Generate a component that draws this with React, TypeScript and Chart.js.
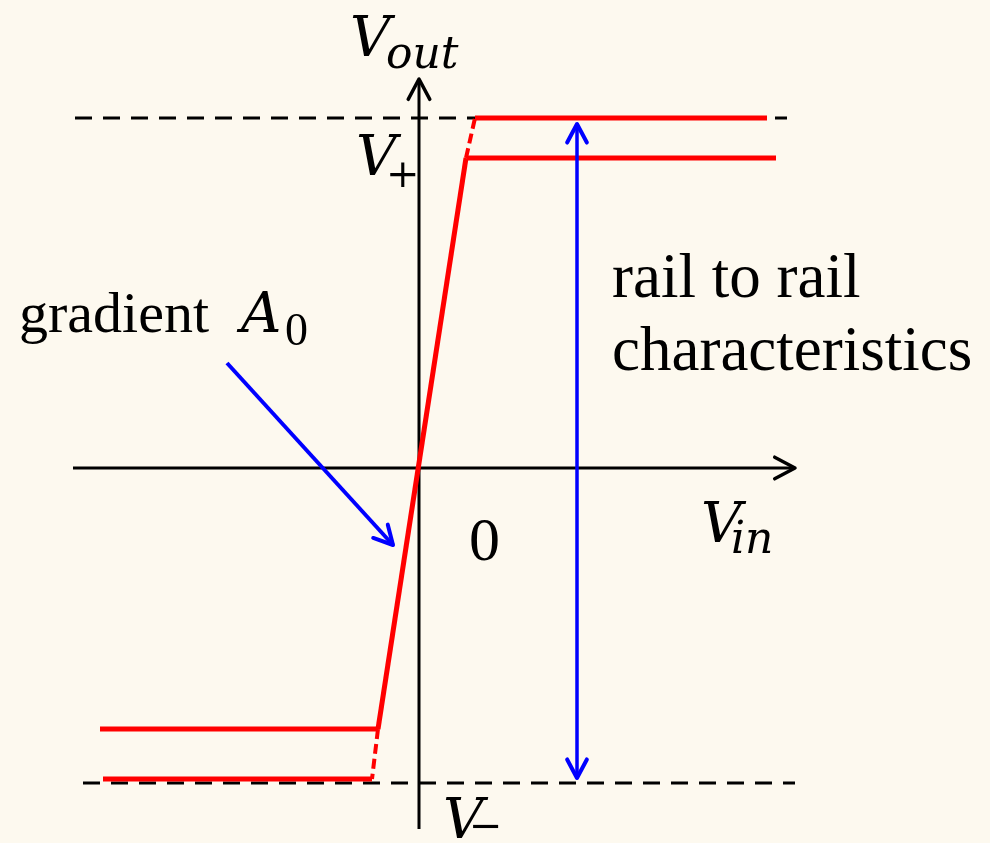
import React, { useEffect, useRef } from "react";
import { Chart, registerables } from "chart.js";

Chart.register(...registerables);

// Coordinates: Vin horizontal, Vout vertical (arbitrary diagram units, origin at axes crossing)
const xRange = [-419, 571];
const yRange = [-375, 468];

const railHigh = 350; // supply rail +
const railLow = -315; // supply rail -
const satHigh = 310; // real saturation V+
const satLow = -261; // real saturation V-

const railDashedX = [-344, 368];
const railLowDashedX = [-336, 376];

const idealTopX = [56, 348];
const realTopX = [48, 357];
const realLowX = [-319, -41];
const idealLowY = -311;
const idealLowX = [-316, -47];

const slopeX = [-41, 47];
const slopeY = [satLow, satHigh];

const xAxisX = [-346, 376];
const yAxisY = [-361, 389];

const railArrowX = 158;
const railArrowY = [344, -310];
const gradArrowX = [-192, -26];
const gradArrowY = [105, -77];

type Pt = { x: number; y: number };
const seg = (x0: number, y0: number, x1: number, y1: number): Pt[] => [
  { x: x0, y: y0 },
  { x: x1, y: y1 },
];

const RED = "#ff0000";
const BLUE = "#0000ff";
const BLACK = "#000000";

const MATH = "italic 56px 'DejaVu Serif'";
const MATHSUB = "italic 44px 'DejaVu Serif'";
const OP = "40px 'DejaVu Serif'";
const TEXT = "58px 'Liberation Serif'";
const TEXT2 = "63px 'Liberation Serif'";

// [text, font, x(data), y(data baseline)]
const labels: [string, string, number, number][] = [
  ["V", MATH, -69, 412],
  ["out", MATHSUB, -33, 400],
  ["V", MATH, -63, 293],
  ["+", OP, -33, 281],
  ["gradient", TEXT, -400, 136],
  ["A", MATH, -178, 136],
  ["0", "46px 'Liberation Serif'", -134, 123],
  ["rail to rail", TEXT2, 193, 171],
  ["characteristics", TEXT2, 193, 98],
  ["0", "62px 'Liberation Serif'", 50, -92],
  ["V", MATH, 282, -74],
  ["in", MATHSUB, 312, -85],
  ["V", MATH, 24, -370],
  ["\u2212", OP, 50, -371],
];

const arrowPlugin = {
  id: "arrowsAndText",
  afterDatasetsDraw(chart: any) {
    const ctx = chart.ctx as CanvasRenderingContext2D;
    const xs = chart.scales.x;
    const ys = chart.scales.y;
    chart.data.datasets.forEach((ds: any) => {
      if (!ds.arrow) return;
      const pts = ds.data.map((p: Pt) => ({
        x: xs.getPixelForValue(p.x),
        y: ys.getPixelForValue(p.y),
      }));
      const head = (tip: any, from: any) => {
        const ang = Math.atan2(tip.y - from.y, tip.x - from.x);
        const L = ds.headLen || 22;
        const a = (28 * Math.PI) / 180;
        ctx.save();
        ctx.strokeStyle = ds.borderColor;
        ctx.lineWidth = ds.headWidth || ds.borderWidth;
        ctx.lineCap = "round";
        ctx.lineJoin = "round";
        ctx.beginPath();
        ctx.moveTo(tip.x - L * Math.cos(ang - a), tip.y - L * Math.sin(ang - a));
        ctx.lineTo(tip.x, tip.y);
        ctx.lineTo(tip.x - L * Math.cos(ang + a), tip.y - L * Math.sin(ang + a));
        ctx.stroke();
        ctx.restore();
      };
      const n = pts.length;
      head(pts[n - 1], pts[n - 2]);
      if (ds.arrow === "both") head(pts[0], pts[1]);
    });
  },
  afterDraw(chart: any) {
    const ctx = chart.ctx as CanvasRenderingContext2D;
    const xs = chart.scales.x;
    const ys = chart.scales.y;
    ctx.save();
    ctx.fillStyle = "#000";
    ctx.textBaseline = "alphabetic";
    ctx.textAlign = "left";
    labels.forEach(([t, f, x, y]) => {
      ctx.font = f;
      ctx.fillText(t, xs.getPixelForValue(x), ys.getPixelForValue(y));
    });
    ctx.restore();
  },
};

export default function App() {
  const ref = useRef<HTMLCanvasElement>(null);
  useEffect(() => {
    if (!ref.current) return;
    const line = (data: Pt[], color: string, width: number, extra: any = {}) => ({
      data,
      borderColor: color,
      backgroundColor: color,
      borderWidth: width,
      showLine: true,
      pointRadius: 0,
      fill: false,
      tension: 0,
      ...extra,
    });
    const chart = new Chart(ref.current, {
      type: "scatter",
      data: {
        datasets: [
          line(seg(gradArrowX[0], gradArrowY[0], gradArrowX[1], gradArrowY[1]), BLUE, 4, { arrow: "end", headLen: 21 }),
          line(seg(railArrowX, railArrowY[0], railArrowX, railArrowY[1]), BLUE, 3.5, { arrow: "both", headLen: 21, headWidth: 4 }),
          line(seg(slopeX[0], slopeY[0], slopeX[1], slopeY[1]), RED, 5),
          line(seg(slopeX[1], satHigh, idealTopX[0], railHigh), RED, 4, { borderDash: [10, 5] }),
          line(seg(slopeX[0], satLow, idealLowX[1], idealLowY), RED, 4, { borderDash: [10, 5] }),
          line(seg(idealTopX[0], railHigh, idealTopX[1], railHigh), RED, 5),
          line(seg(realTopX[0], satHigh, realTopX[1], satHigh), RED, 5),
          line(seg(realLowX[0], satLow, realLowX[1], satLow), RED, 5),
          line(seg(idealLowX[0], idealLowY, idealLowX[1], idealLowY), RED, 5),
          line(seg(xAxisX[0], 0, xAxisX[1], 0), BLACK, 3, { arrow: "end", headLen: 23, headWidth: 3.5 }),
          line(seg(0, yAxisY[0], 0, yAxisY[1]), BLACK, 3, { arrow: "end", headLen: 23, headWidth: 3.5 }),
          line(seg(railDashedX[0], railHigh, railDashedX[1], railHigh), BLACK, 3, { borderDash: [17, 11] }),
          line(seg(railLowDashedX[0], railLow, railLowDashedX[1], railLow), BLACK, 3, { borderDash: [17, 11] }),
        ] as any,
      },
      options: {
        animation: false,
        responsive: false,
        events: [],
        layout: { padding: 0 },
        plugins: { legend: { display: false }, tooltip: { enabled: false } },
        scales: {
          x: { type: "linear", min: xRange[0], max: xRange[1], display: false },
          y: { type: "linear", min: yRange[0], max: yRange[1], display: false },
        },
      },
      plugins: [arrowPlugin],
    });
    return () => chart.destroy();
  }, []);
  return (
    <div style={{ position: "fixed", left: 0, top: 0, width: 990, height: 843, background: "#fdf9ef" }}>
      <canvas ref={ref} width={990} height={843} style={{ display: "block" }} />
    </div>
  );
}
